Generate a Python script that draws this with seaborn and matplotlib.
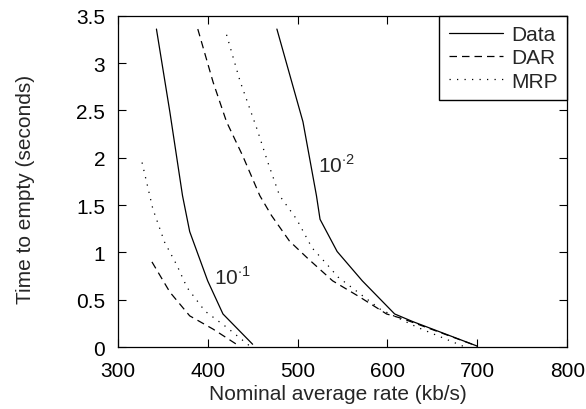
import pandas as pd
import seaborn as sns
import matplotlib
matplotlib.use("Agg")
from matplotlib import pyplot as plt
from matplotlib.ticker import FuncFormatter, MultipleLocator

# curves: nominal average rate (kb/s) vs time to empty (s)
data_1_x = [343, 358, 372, 380, 400, 417, 450]
data_1_y = [3.36, 2.48, 1.60, 1.22, 0.70, 0.35, 0.03]
dar_1_x = [338, 358, 380, 406, 432]
dar_1_y = [0.90, 0.58, 0.33, 0.19, 0.03]
mrp_1_x = [327, 339, 352, 366, 377, 397, 421, 447]
mrp_1_y = [1.95, 1.46, 1.11, 0.86, 0.63, 0.38, 0.21, 0.01]

data_2_x = [477, 506, 521, 525, 544, 572, 608, 628, 700]
data_2_y = [3.36, 2.38, 1.60, 1.35, 1.01, 0.70, 0.35, 0.27, 0.01]
dar_2_x = [389, 406, 421, 439, 458, 471, 491, 511, 539, 569, 599, 617, 700]
dar_2_y = [3.36, 2.80, 2.38, 2.02, 1.60, 1.39, 1.12, 0.94, 0.70, 0.53, 0.35, 0.30, 0.01]
mrp_2_x = [421, 436, 455, 467, 480, 499, 516, 534, 545, 592, 633, 684]
mrp_2_y = [3.30, 2.81, 2.30, 1.95, 1.60, 1.35, 1.05, 0.86, 0.74, 0.40, 0.21, 0.01]

series = [
    ("Data", "1e-1", data_1_x, data_1_y),
    ("DAR", "1e-1", dar_1_x, dar_1_y),
    ("MRP", "1e-1", mrp_1_x, mrp_1_y),
    ("Data", "1e-2", data_2_x, data_2_y),
    ("DAR", "1e-2", dar_2_x, dar_2_y),
    ("MRP", "1e-2", mrp_2_x, mrp_2_y),
]
rows = []
for model, loss, xs, ys in series:
    for x, y in zip(xs, ys):
        rows.append({"model": model, "loss": loss, "rate": x, "time": y})
df = pd.DataFrame(rows)

sns.set_style("ticks")
plt.rcParams["font.family"] = ["Liberation Sans", "DejaVu Sans"]
plt.rcParams["mathtext.fontset"] = "custom"
plt.rcParams["mathtext.rm"] = "Liberation Sans"

fig = plt.figure(figsize=(5.86, 4.10), dpi=100)
ax = fig.add_axes([0.201, 0.151, 0.767, 0.808])

styles = {"Data": "", "DAR": (6, 4), "MRP": (1, 5)}
sns.lineplot(data=df, x="rate", y="time", style="model", units="loss",
             estimator=None, sort=False, color="black", linewidth=0.9,
             dashes=styles, style_order=["Data", "DAR", "MRP"], ax=ax)

ax.set_xlim(300, 800)
ax.set_ylim(0, 3.5)
ax.xaxis.set_major_locator(MultipleLocator(100))
ax.yaxis.set_major_locator(MultipleLocator(0.5))
ax.yaxis.set_major_formatter(FuncFormatter(lambda v, p: "%g" % v))
ax.tick_params(direction="in", top=True, right=True, length=6, width=0.8,
               labelsize=15, colors="black")
ax.tick_params(axis="x", pad=10)
ax.tick_params(axis="y", pad=9)
for s in ax.spines.values():
    s.set_linewidth(0.9)
    s.set_color("black")

ax.set_xlabel("Nominal average rate (kb/s)", fontsize=15)
ax.set_ylabel("Time to empty (seconds)", fontsize=15)
ax.xaxis.set_label_coords(0.49, -0.112)
ax.yaxis.set_label_coords(-0.185, 0.48)

ax.text(407, 0.67, r"10$^{\cdot 1}$", fontsize=15)
ax.text(523, 1.85, r"10$^{\cdot 2}$", fontsize=15)

leg = ax.legend(loc="upper right", borderaxespad=0, fancybox=False,
                edgecolor="black", fontsize=15, handlelength=2.6,
                handletextpad=0.4, labelspacing=0.2, borderpad=0.45)
leg.get_frame().set_linewidth(1.0)
leg.get_frame().set_alpha(1)
for line in leg.get_lines():
    line.set_linewidth(0.9)

plt.savefig("out.png", dpi=100)
